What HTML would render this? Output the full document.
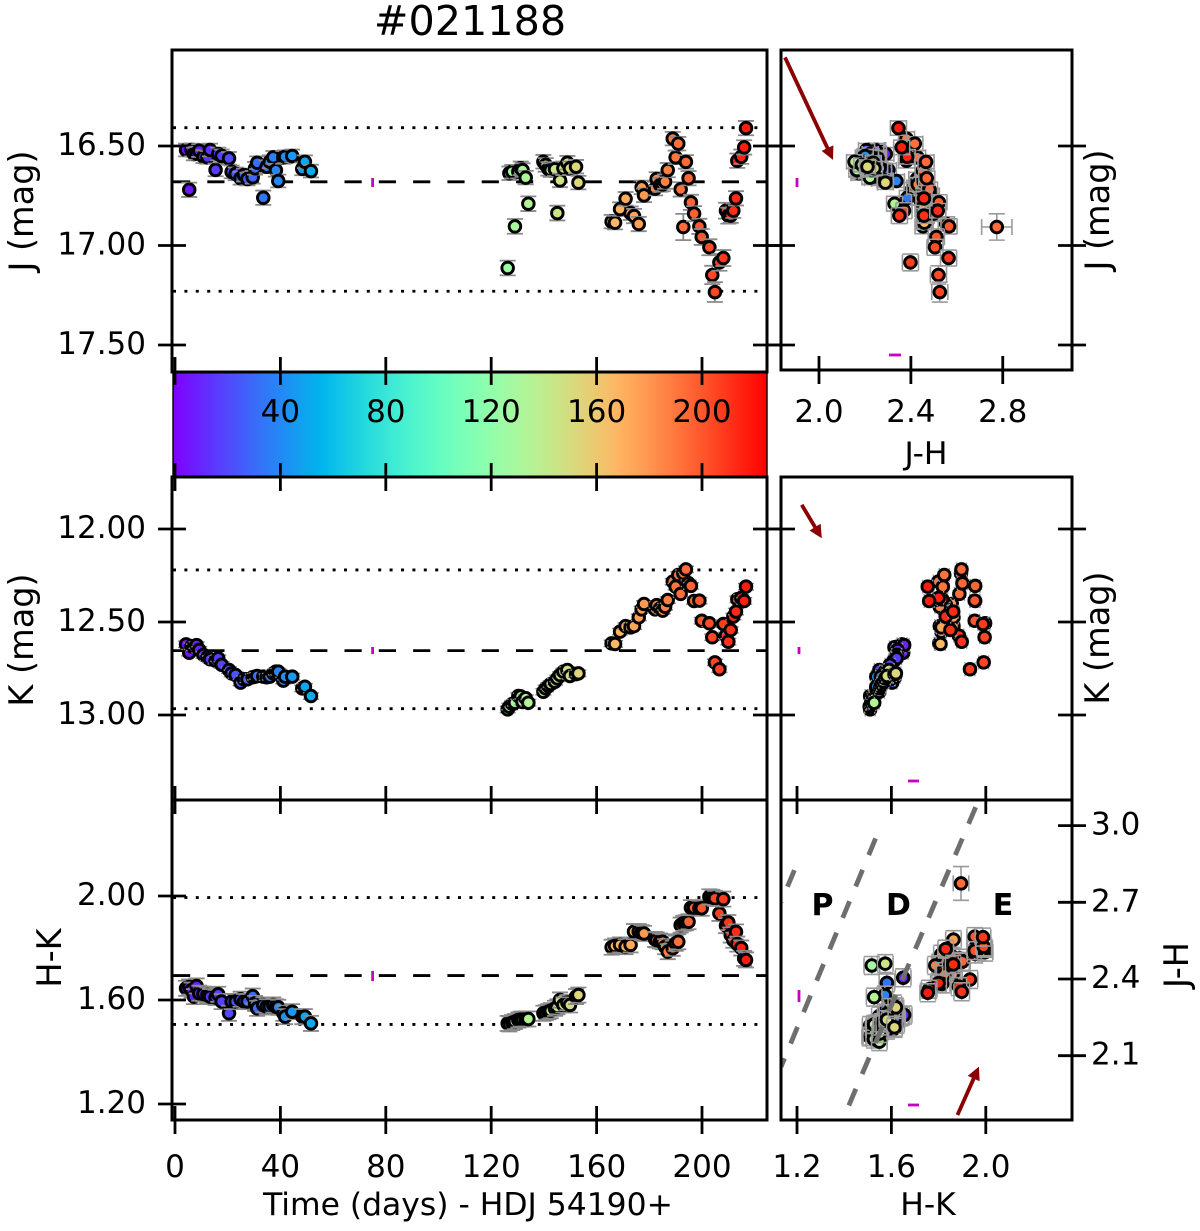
<!DOCTYPE html>
<html>
<head>
<meta charset="utf-8">
<title>#021188</title>
<style>
html,body{margin:0;padding:0;background:#fff;}
svg{display:block;}
text{font-family:"DejaVu Sans","Liberation Sans",sans-serif;fill:#000;}
</style>
</head>
<body>
<svg id="chart" xmlns="http://www.w3.org/2000/svg" width="1200" height="1231" viewBox="0 0 1200 1231">
  <rect x="0" y="0" width="1200" height="1231" fill="#fff"/>
  <g id="layer"></g>
  <text x="470" y="35" text-anchor="middle" font-size="41.3">#021188</text>
  <text transform="translate(33,211) rotate(-90)" text-anchor="middle" font-size="33.5">J (mag)</text>
  <text transform="translate(33,640) rotate(-90)" text-anchor="middle" font-size="33.5">K (mag)</text>
  <text transform="translate(61,958) rotate(-90)" text-anchor="middle" font-size="33.5">H-K</text>
  <text transform="translate(1109,210) rotate(-90)" text-anchor="middle" font-size="33.5">J (mag)</text>
  <text transform="translate(1109,638) rotate(-90)" text-anchor="middle" font-size="33.5">K (mag)</text>
  <text transform="translate(1188,965) rotate(-90)" text-anchor="middle" font-size="33.5">J-H</text>
  <text x="468" y="1215" text-anchor="middle" font-size="31.4">Time (days) - HDJ 54190+</text>
  <text x="926" y="464" text-anchor="middle" font-size="31.4">J-H</text>
  <text x="928" y="1215" text-anchor="middle" font-size="31.4">H-K</text>
</svg>
<script>
var days = [4.2,5.4,6.3,7.2,8.2,9.2,10.8,12.3,13.3,15.4,16.4,17.7,20.5,21.5,23,24.9,26.2,27.5,29.5,30.4,31.2,33.5,34.8,36,37.3,38.3,39.2,41.1,41.8,44.5,48.3,49.3,51.6,
126.25,126.9,128,129,130.3,131.2,131.9,133.1,134.1,139.8,140.7,141.7,142.6,144.2,145.1,146.1,147.4,148.9,149.9,152.2,153.1,
165.7,167,168.9,171,172.9,174.2,176,177.1,178,182.2,182.8,184.1,185.1,186,187,188.9,190,191,191.9,192.9,193.9,194.9,195.8,197,199,199.9,202.8,203.9,204.9,206.6,208.1,209.1,210,210.9,211.9,212.9,213.4,214.9,216,216.7];
var jMag = [16.52,16.72,16.52,16.54,16.537,16.523,16.554,16.557,16.52,16.62,16.54,16.55,16.562,16.63,16.64,16.662,16.646,16.666,16.657,16.612,16.584,16.76,16.604,16.579,16.557,16.622,16.676,16.557,16.554,16.55,16.615,16.579,16.626,
17.113,16.637,16.629,16.904,16.629,16.612,16.621,16.659,16.79,16.579,16.595,16.615,16.621,16.617,16.837,16.673,16.612,16.584,16.612,16.604,16.684,
16.88,16.885,16.817,16.765,16.838,16.852,16.892,16.708,16.748,16.714,16.666,16.696,16.693,16.679,16.621,16.463,16.557,16.488,16.718,16.907,16.58,16.662,16.783,16.84,16.904,16.957,17.009,17.148,17.234,17.085,17.063,16.825,16.85,16.85,16.825,16.763,16.574,16.554,16.507,16.41];
var kMag = [12.62,12.665,12.63,12.636,12.624,12.65,12.677,12.69,12.70,12.708,12.695,12.73,12.758,12.776,12.785,12.826,12.808,12.808,12.797,12.794,12.79,12.794,12.797,12.794,12.776,12.767,12.767,12.815,12.794,12.794,12.857,12.848,12.898,
12.97,12.955,12.94,12.934,12.898,12.90,12.93,12.91,12.934,12.875,12.857,12.844,12.833,12.821,12.803,12.785,12.767,12.758,12.79,12.78,12.776,
12.615,12.618,12.552,12.522,12.529,12.522,12.475,12.432,12.403,12.432,12.409,12.427,12.439,12.418,12.382,12.283,12.31,12.247,12.349,12.238,12.217,12.292,12.306,12.387,12.385,12.493,12.507,12.582,12.717,12.754,12.511,12.573,12.606,12.543,12.471,12.444,12.378,12.37,12.387,12.31];
var hkColor = [1.645,1.65,1.638,1.613,1.654,1.626,1.623,1.619,1.613,1.61,1.622,1.594,1.549,1.594,1.594,1.603,1.594,1.594,1.615,1.587,1.568,1.581,1.574,1.574,1.581,1.574,1.572,1.549,1.536,1.555,1.536,1.536,1.51,
1.51,1.508,1.513,1.517,1.523,1.526,1.526,1.527,1.527,1.549,1.551,1.555,1.559,1.568,1.574,1.6,1.581,1.59,1.581,1.613,1.619,
1.803,1.808,1.812,1.805,1.812,1.863,1.863,1.859,1.856,1.833,1.831,1.827,1.824,1.805,1.786,1.799,1.818,1.824,1.888,1.895,1.897,1.901,1.955,1.955,1.953,1.953,1.997,1.995,1.991,1.933,1.988,1.886,1.898,1.85,1.83,1.862,1.815,1.8,1.76,1.754];
var jhColor = [2.255,2.405,2.252,2.291,2.259,2.247,2.254,2.248,2.207,2.302,2.223,2.226,2.255,2.26,2.261,2.233,2.244,2.264,2.245,2.231,2.226,2.385,2.233,2.211,2.2,2.281,2.337,2.193,2.224,2.201,2.222,2.195,2.218,
null,2.174,2.176,2.453,2.208,2.186,2.165,2.222,2.329,2.155,2.187,2.216,2.229,2.228,2.46,2.288,2.264,2.236,2.241,2.211,2.289,
2.462,2.459,2.453,2.438,2.497,2.467,2.554,2.417,2.489,2.449,2.426,2.442,2.43,2.456,2.453,2.381,2.429,2.417,2.481,2.774,2.466,2.469,2.522,2.498,2.566,2.511,2.505,2.52,2.526,2.398,2.564,2.37,2.35,2.457,2.517,2.457,2.381,2.384,2.36,2.346];
var jErr = [.032,.036,.032,.032,.032,.032,.032,.032,.032,.032,.032,.032,.032,.032,.032,.032,.032,.032,.032,.032,.032,.036,.032,.032,.032,.032,.032,.032,.032,.032,.032,.032,.032,
.037,.034,.034,.037,.034,.034,.034,.034,.037,.034,.034,.034,.034,.034,.037,.034,.034,.034,.034,.034,.034,
.034,.034,.034,.034,.034,.036,.036,.034,.034,.034,.034,.034,.034,.036,.036,.034,.034,.034,.036,.066,.034,.036,.038,.038,.038,.04,.04,.046,.05,.042,.04,.04,.04,.036,.036,.036,.036,.036,.036,.036];
var hkErr = 0.029;
var kErr = 0.017;
var hkPanelErr = 0.021;
var jhStatErr = 0.035;
var hkStatErr = 0.033;

var jLevels = [16.408,16.68,17.23];
var kLevels = [12.22,12.654,12.966];
var hkLevels = [1.994,1.694,1.506];

var timeTicks = [0,40,80,120,160,200];
var jTicks = [16.5,17,17.5];
var kTicks = [12,12.5,13];
var hkTicks = [1.2,1.6,2];
var jhBottomTicks = [2,2.4,2.8];
var hkPanelTicks = [1.2,1.6,2];
var jhRightTicks = [2.1,2.4,2.7,3];

var meanErrTime = 75;
var reddeningJ = {from:[1.852,16.055], to:[2.061,16.57]};
var reddeningK = {from:[1.22,11.87], to:[1.305,12.05]};
var reddeningCC = {from:[1.88,1.868], to:[1.971,2.057]};
var bandLines = [[1.957,3.072,1.417,1.90],[1.533,2.95,1.132,2.056],[1.189,2.826,1.132,2.70]];

function xT(v){return 175+2.635*v;}
function yJ(v){return 146+199*(v-16.5);}
function yK(v){return 529+186*(v-12);}
function yHK(v){return 1000-260*(v-1.6);}
function xJH(v){return 819+229.7*(v-2);}
function xHK(v){return 797+236*(v-1.2);}
function yJH(v){return 979-255.6*(v-2.4);}

function rainbow(f){
  var r=Math.min(1,Math.abs(2*f-0.5)), g=Math.sin(Math.PI*f), b=Math.cos(Math.PI*f/2);
  return 'rgb('+Math.round(r*255)+','+Math.round(g*255)+','+Math.round(Math.max(0,b)*255)+')';
}
function colorOf(t){return rainbow((t+1)/225.7);}

var NS='http://www.w3.org/2000/svg';
var layer=document.getElementById('layer');
function mk(tag,attrs,parent){
  var n=document.createElementNS(NS,tag);
  for(var k in attrs){n.setAttribute(k,attrs[k]);}
  (parent||layer).appendChild(n);
  return n;
}
function clipRect(id,x,y,w,h){
  var c=mk('clipPath',{id:id});
  mk('rect',{x:x,y:y,width:w,height:h},c);
}
clipRect('clip-cc',781,800,291,320);

/* gradient for the colour bar */
var defs=mk('defs',{});
var grad=mk('linearGradient',{id:'cbar',x1:'0',x2:'1',y1:'0',y2:'0'},defs);
for(var s=0;s<=40;s++){
  mk('stop',{offset:(s/40),'stop-color':rainbow(s/40)},grad);
}

function refLines(levels,yf){
  levels.forEach(function(v,i){
    var dashed=(i===1);
    var el=mk('line',{x1:173,x2:766,y1:yf(v),y2:yf(v),stroke:'#000','stroke-width':2.8,'stroke-dasharray':dashed?'17.2 17.1':'3 8.4'});
    
    
  });
}
refLines(jLevels,yJ);
refLines(kLevels,yK);
refLines(hkLevels,yHK);

function errorBar(g,cx,cy,ex,ey,cap,width,color){
  var st={stroke:color,'stroke-width':width,fill:'none'};
  function ln(a,b,c,d){var at={x1:a,y1:b,x2:c,y2:d};for(var k in st){at[k]=st[k];}return mk('line',at,g);}
  ln(cx,cy-ey,cx,cy+ey); ln(cx-cap,cy-ey,cx+cap,cy-ey); ln(cx-cap,cy+ey,cx+cap,cy+ey);
  if(ex>0){ ln(cx-ex,cy,cx+ex,cy); ln(cx-ex,cy-cap,cx-ex,cy+cap); ln(cx+ex,cy-cap,cx+ex,cy+cap); }
}
function marker(g,cx,cy,t){
  return mk('circle',{cx:cx,cy:cy,r:5.8,fill:colorOf(t),stroke:'#000','stroke-width':2.9},g);
}

var gJ=mk('g',{});


var gK=mk('g',{});


var gH=mk('g',{});


var gCJ=mk('g',{});


var gCK=mk('g',{});


var gCC=mk('g',{});



days.forEach(function(t,i){
  var m;
  errorBar(gJ,xT(t),yJ(jMag[i]),0,jErr[i]*199,8,1.8,'#8a8a8a');
  m=marker(gJ,xT(t),yJ(jMag[i]),t);
  
  

  errorBar(gK,xT(t),yK(kMag[i]),0,kErr*186,8,1.5,'#8a8a8a');
  m=marker(gK,xT(t),yK(kMag[i]),t);
  
  

  errorBar(gH,xT(t),yHK(hkColor[i]),0,hkErr*260,8,1.8,'#8a8a8a');
  m=marker(gH,xT(t),yHK(hkColor[i]),t);
  
  

  errorBar(gCK,xHK(hkColor[i]),yK(kMag[i]),hkPanelErr*236,kErr*186,7,1.4,'#9a9a9a');
  m=marker(gCK,xHK(hkColor[i]),yK(kMag[i]),t);
  
  

  if(jhColor[i]===null){return;}
  var wide=jErr[i]>0.06?0.066:jhStatErr;
  errorBar(gCJ,xJH(jhColor[i]),yJ(jMag[i]),wide*229.7,jErr[i]*199,8,1.6,'#9a9a9a');
  m=marker(gCJ,xJH(jhColor[i]),yJ(jMag[i]),t);
  
  

  errorBar(gCC,xHK(hkColor[i]),yJH(jhColor[i]),hkStatErr*236,wide*255.6,8,1.6,'#9a9a9a');
  m=marker(gCC,xHK(hkColor[i]),yJH(jhColor[i]),t);
  
  
});

/* reddening band lines */
bandLines.forEach(function(b){
  var el=mk('line',{x1:xHK(b[0]),y1:yJH(b[1]),x2:xHK(b[2]),y2:yJH(b[3]),stroke:'#6e6e6e','stroke-width':4.8,'stroke-dasharray':'18 16','clip-path':'url(#clip-cc)'});
  
  
});

/* magenta mean-error markers */
function seg(x1,y1,x2,y2,stroke,w,name){
  var el=mk('line',{x1:x1,y1:y1,x2:x2,y2:y2,stroke:stroke,'stroke-width':w});
  
  
  return el;
}
var MAG='#c400c4';
seg(xT(meanErrTime),178,xT(meanErrTime),187,MAG,2.8,'mean-error-j');
seg(xT(meanErrTime),647,xT(meanErrTime),654,MAG,2.8,'mean-error-k');
seg(xT(meanErrTime),971,xT(meanErrTime),981,MAG,2.8,'mean-error-hk');
seg(797,178,797,187,MAG,2.8,'mean-error-j-vertical');
seg(889,355,901,355,MAG,2.8,'mean-error-jh-horizontal');
seg(799,647,799,654,MAG,2.8,'mean-error-k-vertical');
seg(908,781,919,781,MAG,2.8,'mean-error-hk-horizontal');
seg(799,990,799,1002,MAG,2.8,'mean-error-jh-vertical');
seg(908,1105,919,1105,MAG,2.8,'mean-error-hk-bottom');

/* extinction arrows */
function arrow(x1,y1,x2,y2){
  var g=mk('g',{});
  
  
  var dx=x2-x1,dy=y2-y1,L=Math.sqrt(dx*dx+dy*dy),ux=dx/L,uy=dy/L,hl=13,hw=6.5;
  mk('line',{x1:x1,y1:y1,x2:x2-ux*hl*0.6,y2:y2-uy*hl*0.6,stroke:'#8b0000','stroke-width':3.8},g);
  var bx=x2-ux*hl,by=y2-uy*hl;
  mk('polygon',{points:x2+','+y2+' '+(bx-uy*hw)+','+(by+ux*hw)+' '+(bx+uy*hw)+','+(by-ux*hw),fill:'#8b0000'},g);
}
arrow(xJH(reddeningJ.from[0]),yJ(reddeningJ.from[1]),xJH(reddeningJ.to[0]),yJ(reddeningJ.to[1]));
arrow(xHK(reddeningK.from[0]),yK(reddeningK.from[1]),xHK(reddeningK.to[0]),yK(reddeningK.to[1]));
arrow(xHK(reddeningCC.from[0]),yJH(reddeningCC.from[1]),xHK(reddeningCC.to[0]),yJH(reddeningCC.to[1]));

/* colour bar */
var bar=mk('rect',{x:173,y:372,width:594,height:105,fill:'url(#cbar)'});


seg(173,372,767,372,'#000',2.8,'colorbar-top-edge');
seg(173,477,767,477,'#000',2.8,'colorbar-bottom-edge');
seg(173,372,173,477,'#000',1.4,'colorbar-left-edge');
seg(767,372,767,477,'#000',1.4,'colorbar-right-edge');

/* spines */
function spine(x,y,w,h,name){
  var el=mk('rect',{x:x,y:y,width:w,height:h,fill:'none',stroke:'#000','stroke-width':3});
  
  
}
spine(172,50,595,322,'j-panel-frame');
spine(172,477,595,323,'k-panel-frame');
spine(172,800,595,320,'hk-panel-frame');
spine(781,50,291,320,'jh-panel-frame');
spine(781,477,291,323,'k-hk-panel-frame');
spine(781,800,291,320,'color-color-panel-frame');

/* ticks */
function vtick(x,y){
  var el=mk('line',{x1:x,x2:x,y1:y-14,y2:y+14,stroke:'#000','stroke-width':2.8});
  
  
}
function htick(x,y){
  var el=mk('line',{x1:x-14,x2:x+14,y1:y,y2:y,stroke:'#000','stroke-width':2.8});
  
  
}
function label(x,y,txt,anchor){
  var el=mk('text',{x:x,y:y,'text-anchor':anchor,'font-size':31});
  el.textContent=txt;
  
  
}
timeTicks.forEach(function(v){
  [371,477,800,1120].forEach(function(y){vtick(xT(v),y);});
  label(xT(v),1177,String(v),'middle');
  if(v>0){label(xT(v),422,String(v),'middle');}
});
jTicks.forEach(function(v){
  [172,767,781,1072].forEach(function(x){htick(x,yJ(v));});
  label(146,yJ(v)+9,v.toFixed(2),'end');
});
kTicks.forEach(function(v){
  [172,767,781,1072].forEach(function(x){htick(x,yK(v));});
  label(146,yK(v)+9,v.toFixed(2),'end');
});
hkTicks.forEach(function(v){
  htick(172,yHK(v));
  label(146,yHK(v)+9,v.toFixed(2),'end');
});
jhBottomTicks.forEach(function(v){
  vtick(xJH(v),370);
  label(xJH(v),422,v.toFixed(1),'middle');
});
hkPanelTicks.forEach(function(v){
  vtick(xHK(v),800);
  vtick(xHK(v),1120);
  label(xHK(v),1177,v.toFixed(1),'middle');
});
jhRightTicks.forEach(function(v){
  htick(1072,yJH(v));
  label(1091,yJH(v)+9,v.toFixed(1),'start');
});

/* class region letters */
var regionNames=['P','D','E'];
var regionCentres=[1.308,1.63,2.073];
regionNames.forEach(function(n,i){
  var el=mk('text',{x:xHK(regionCentres[i]),y:915,'text-anchor':'middle','font-size':30,'font-weight':'bold'});
  el.textContent=n;
  
  
});
</script>
</body>
</html>
